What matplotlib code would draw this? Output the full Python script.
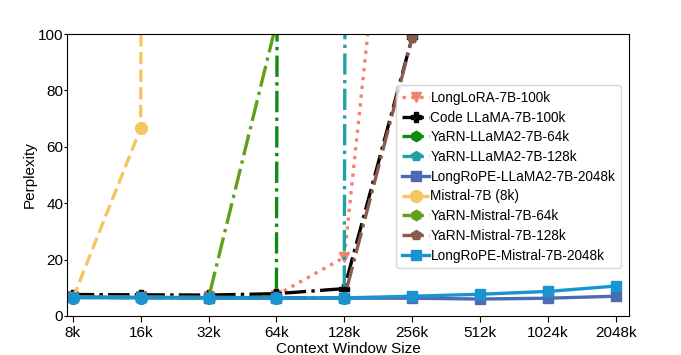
import numpy as np
import matplotlib
matplotlib.use("Agg")
import matplotlib.pyplot as plt

plt.rcParams['font.family'] = ['Liberation Sans', 'DejaVu Sans']

ctx_labels = ['8k', '16k', '32k', '64k', '128k', '256k', '512k', '1024k', '2048k']

longlora = [7.2, 7.1, 7.0, 7.4, 20.8, 250]
codellama = [7.6, 7.5, 7.4, 7.9, 9.7, 98.8]
yarn_llama_64k = [6.8, 6.7, 6.6, 6.6, 1e4]
yarn_llama_128k = [6.8, 6.7, 6.6, 6.5, 6.4, 1e4]
longrope_llama = [6.8, 6.6, 6.5, 6.4, 6.3, 6.3, 6.0, 6.3, 7.0]
mistral = [6.2, 66.6, 1e4]
yarn_mistral_64k = [6.6, 6.5, 6.4, 104, 1e4]
yarn_mistral_128k = [6.6, 6.5, 6.4, 6.3, 6.3, 98.6]
longrope_mistral = [6.5, 6.4, 6.3, 6.3, 6.4, 7.0, 7.7, 8.7, 10.6]

fig = plt.figure(figsize=(6.81, 3.55), dpi=100)
ax = fig.add_axes([0.098, 0.110, 0.826, 0.794])

lw = 2.4
ms = 7.5
x = np.arange(len(ctx_labels))

ax.plot(x[:len(longlora)], longlora, ':', color='#f4806e', marker='v', lw=lw, ms=ms, label='LongLoRA-7B-100k')
ax.plot(x[:len(codellama)], codellama, '-.', color='black', marker='P', lw=lw, ms=ms, label='Code LLaMA-7B-100k')
ax.plot(x[:len(yarn_llama_64k)], yarn_llama_64k, '-.', color='#108a12', marker='h', lw=lw, ms=ms, label='YaRN-LLaMA2-7B-64k')
ax.plot(x[:len(yarn_llama_128k)], yarn_llama_128k, '-.', color='#22a0a4', marker='p', lw=lw, ms=ms, label='YaRN-LLaMA2-7B-128k')
ax.plot(x, longrope_llama, '-', color='#4d6bb3', marker='s', lw=lw, ms=ms, label='LongRoPE-LLaMA2-7B-2048k')
ax.plot(x[:len(mistral)], mistral, '--', color='#f3c75f', marker='o', lw=lw, ms=ms + 1, label='Mistral-7B (8k)')
ax.plot(x[:len(yarn_mistral_64k)], yarn_mistral_64k, '-.', color='#62a01a', marker='h', lw=lw, ms=ms, label='YaRN-Mistral-7B-64k')
ax.plot(x[:len(yarn_mistral_128k)], yarn_mistral_128k, '-.', color='#8c5a4c', marker='p', lw=lw, ms=ms, label='YaRN-Mistral-7B-128k')
ax.plot(x, longrope_mistral, '-', color='#1a94d0', marker='s', lw=lw, ms=ms,
        markevery=[5, 6, 7, 8], label='LongRoPE-Mistral-7B-2048k')
ax.plot(x, longrope_mistral, 'o', color='#1a94d0', ms=ms + 1, markevery=[0, 1, 2, 3, 4])

ax.set_ylim(0, 100)
ax.set_xlim(-0.09, 8.2)
ax.set_xticks(x)
ax.set_xticklabels(ctx_labels)
ax.set_yticks([0, 20, 40, 60, 80, 100])
ax.tick_params(axis='x', labelsize=11, length=4, pad=3)
ax.tick_params(axis='y', labelsize=11, length=2, pad=0.5)
ax.set_ylabel('Perplexity', fontsize=11, labelpad=1)
ax.set_xlabel('Context Window Size', fontsize=11, labelpad=1.5)

ax.legend(loc='upper right', bbox_to_anchor=(0.985, 0.818), fontsize=9.8,
          labelspacing=0.42, handletextpad=0.1, borderpad=0.4, borderaxespad=0)

fig.savefig('out.png', dpi=100)
